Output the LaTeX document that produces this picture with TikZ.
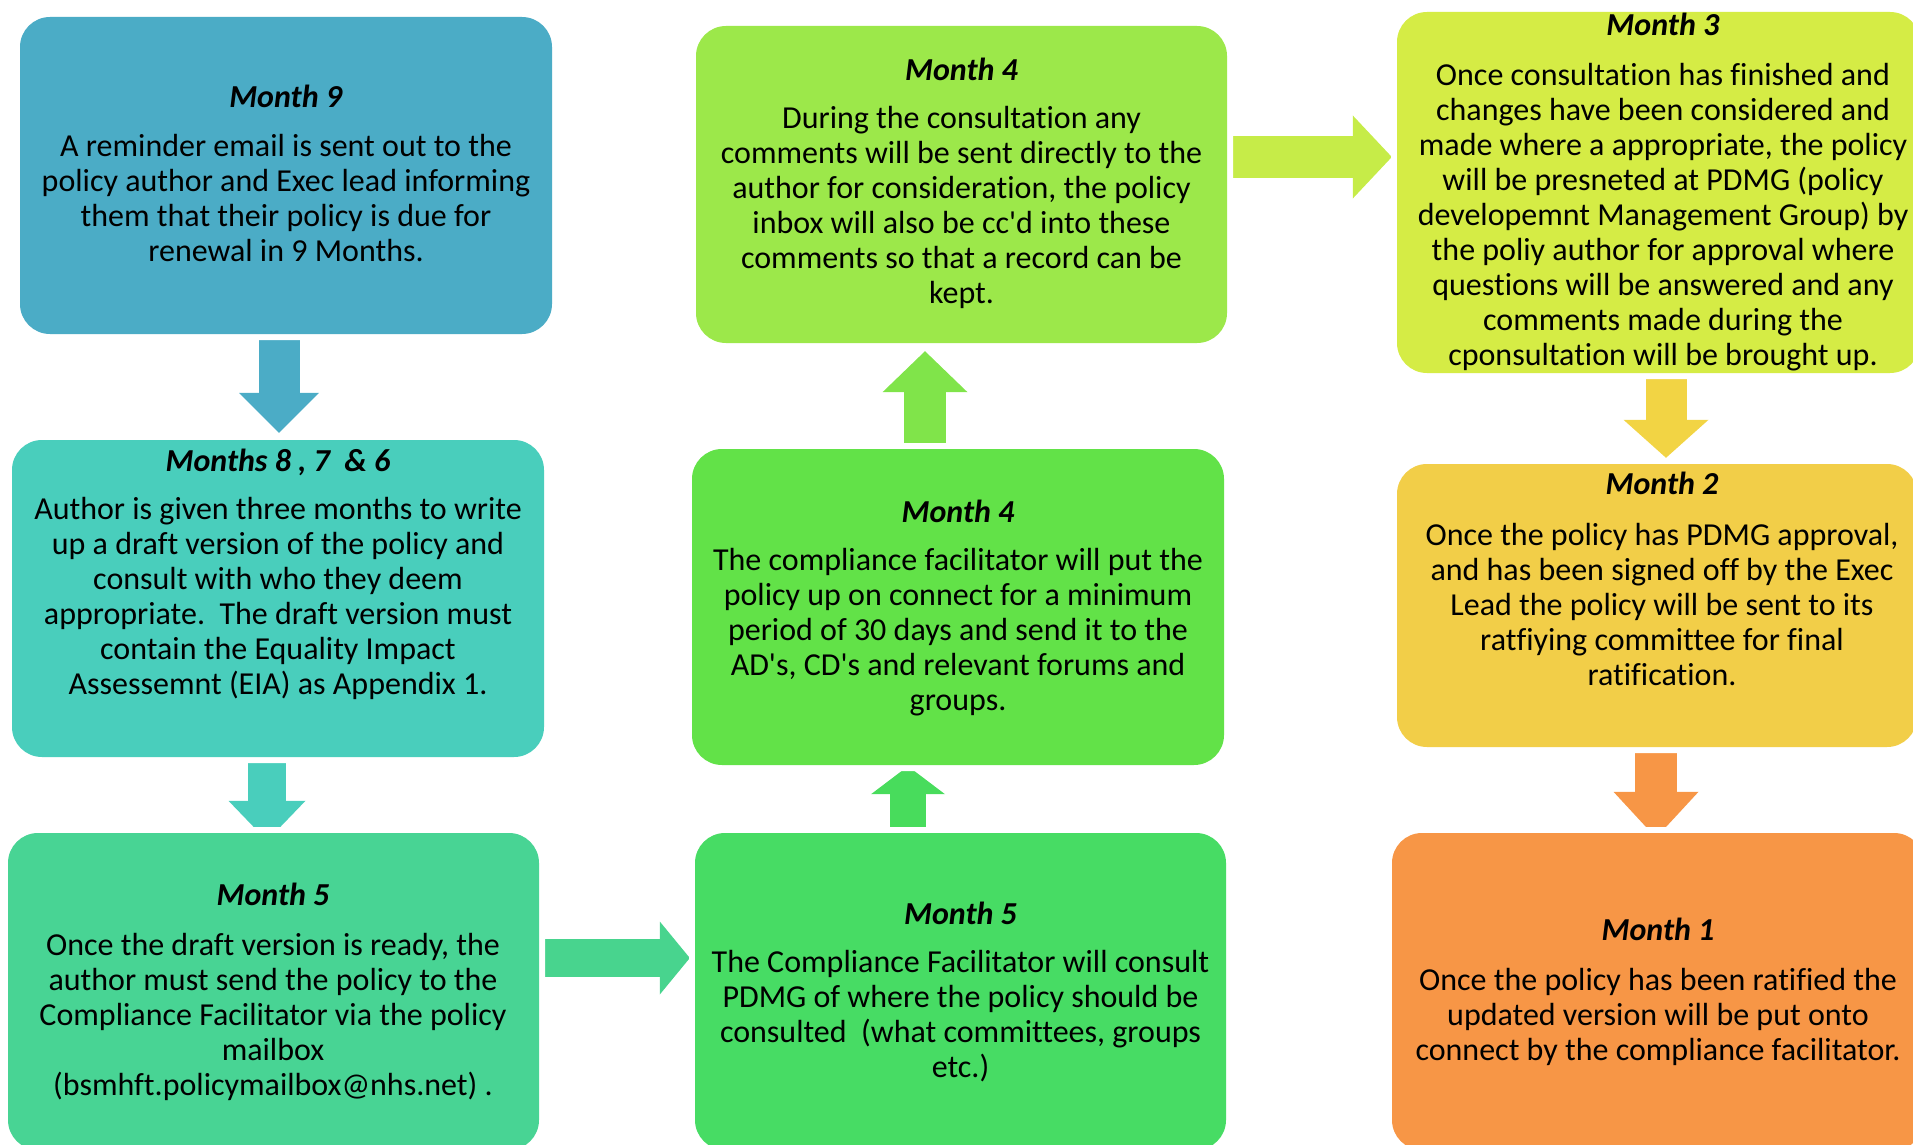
\documentclass[tikz,border=0pt]{standalone}
\usepackage{fontspec}
\newfontfamily\cf{Carlito}[Ligatures=NoCommon]
\usetikzlibrary{arrows.meta,calc}
\pgfdeclarelayer{bg}
\pgfsetlayers{bg,main}
\definecolor{cA}{HTML}{4BACC6}
\definecolor{cB}{HTML}{49CEBC}
\definecolor{cC}{HTML}{48D494}
\definecolor{cD}{HTML}{9CE84A}
\definecolor{cE}{HTML}{62E248}
\definecolor{cF}{HTML}{47DC64}
\definecolor{cG}{HTML}{D5EC45}
\definecolor{cH}{HTML}{F2CE48}
\definecolor{cI}{HTML}{F79646}
\definecolor{aC}{HTML}{48D48E}
\definecolor{aD}{HTML}{80E44A}
\definecolor{aF}{HTML}{48DC5C}
\definecolor{aG}{HTML}{C6EC48}
\definecolor{aH}{HTML}{F2D444}
\begin{document}
\begin{tikzpicture}[x=1pt,y=-1pt,
  box/.style={rounded corners=30pt, minimum width=532pt, minimum height=317pt,
    inner sep=0pt, draw=none, preaction={draw=white,line width=12pt}},
  txt/.style={anchor=north, align=center, inner sep=0pt, text=black,
    font=\cf\fontsize{32}{35}\selectfont},
  barrow/.style n args={3}{line width=#1pt,
    -{Triangle[width=#2pt,length=#3pt,line width=0pt]}}]
\useasboundingbox (0,0) rectangle (1913,1145);
% boxes
\node[box, fill=cA] (b1) at (286,175.5) {};
\node[box, fill=cB] (b2) at (278,598.5) {};
\node[box, fill=cC, minimum width=531pt] (b3) at (273.5,991.5) {};
\node[box, fill=cD, minimum width=531pt] (b4) at (961.5,184.5) {};
\node[box, fill=cE, minimum height=316pt] (b5) at (958,607) {};
\node[box, fill=cF, minimum width=531pt] (b6) at (960.5,991.5) {};
\node[box, fill=cG, minimum width=523pt, minimum height=361pt] (b7) at (1658.5,192.5) {};
\node[box, fill=cH, minimum width=520pt, minimum height=283pt] (b8) at (1657,605.5) {};
\node[box, fill=cI] (b9) at (1658,991.5) {};
% texts
\node[txt] (t1) at ($(b1.north)+(0,65.5)$) {\strut\textbf{\textit{Month 9}}\\[14pt]
A reminder email is sent out to the\\
policy author and Exec lead informing\\
them that their policy is due for\\
renewal in 9 Months.};
\node[txt] (t2) at ($(b2.north)+(0,6.5)$) {\strut\textbf{\textit{Months 8 , 7\ \ \& 6}}\\[13pt]
Author is given three months to write\\
up a draft version of the policy and\\
consult with who they deem\\
appropriate.\ \ The draft version must\\
contain the Equality Impact\\
Assessemnt (EIA) as Appendix 1.};
\node[txt] (t3) at ($(b3.north)+(-0.5,47.5)$) {\strut\textbf{\textit{Month 5}}\\[15pt]
Once the draft version is ready, the\\
author must send the policy to the\\
Compliance Facilitator via the policy\\
mailbox\\
(bsmhft.policymailbox@nhs.net) .};
\node[txt] (t4) at ($(b4.north)+(0,29.5)$) {\strut\textbf{\textit{Month 4}}\\[13pt]
During the consultation any\\
comments will be sent directly to the\\
author for consideration, the policy\\
inbox will also be cc'd into these\\
comments so that a record can be\\
kept.};
\node[txt] (t5) at ($(b5.north)+(0,48.5)$) {\strut\textbf{\textit{Month 4}}\\[13pt]
The compliance facilitator will put the\\
policy up on connect for a minimum\\
period of 30 days and send it to the\\
AD's, CD's and relevant forums and\\
groups.};
\node[txt] (t6) at ($(b6.north)+(0,66.5)$) {\strut\textbf{\textit{Month 5}}\\[13pt]
The Compliance Facilitator will consult\\
PDMG of where the policy should be\\
consulted\ \ (what committees, groups\\
etc.)};
\node[txt] (t7) at ($(b7.north)+(4.5,-1.5)$) {\strut\textbf{\textit{Month 3}}\\[15pt]
Once consultation has finished and\\
changes have been considered and\\
made where a appropriate, the policy\\
will be presneted at PDMG (policy\\
developemnt Management Group) by\\
the poliy author for approval where\\
questions will be answered and any\\
comments made during the\\
cponsultation will be brought up.};
\node[txt] (t8) at ($(b8.north)+(5,5.5)$) {\strut\textbf{\textit{Month 2}}\\[16pt]
Once the policy has PDMG approval,\\
and has been signed off by the Exec\\
Lead the policy will be sent to its\\
ratfiying committee for final\\
ratification.};
\node[txt] (t9) at ($(b9.north)+(0,82.5)$) {\strut\textbf{\textit{Month 1}}\\[15pt]
Once the policy has been ratified the\\
updated version will be put onto\\
connect by the compliance facilitator.};
% block arrows (behind boxes)
\begin{pgfonlayer}{bg}
\draw[barrow={41}{80}{40}, cA] ($(b1.south)+(-7,6)$) -- ($(b2.north)+(1,-7)$);
\draw[barrow={38}{77}{40}, cB] ($(b2.south)+(-11,6)$) -- ($(b3.north)+(-6.5,8)$);
\draw[barrow={38}{73}{30}, aC] ($(b3.east)+(6,-33.5)$) -- ($(b6.west)+(-5,-33.5)$);
\draw[barrow={36}{74}{28}, aF] ($(b6.north)+(-52.5,-6)$) -- ($(b5.south)+(-50,1)$);
\draw[barrow={42}{85}{41}, aD] ($(b5.north)+(-33,-6)$) -- ($(b4.south)+(-36.5,8)$);
\draw[barrow={42}{83}{39}, aG] ($(b4.east)+(6,-27.5)$) -- ($(b7.west)+(-5,-35.5)$);
\draw[barrow={41}{85}{38}, aH] ($(b7.south)+(7.5,6)$) -- ($(b8.north)+(9,-6)$);
\draw[barrow={42}{85}{46}, cI] ($(b8.south)+(-1,6)$) -- ($(b9.north)+(-2,5)$);
\end{pgfonlayer}
\end{tikzpicture}
\end{document}
